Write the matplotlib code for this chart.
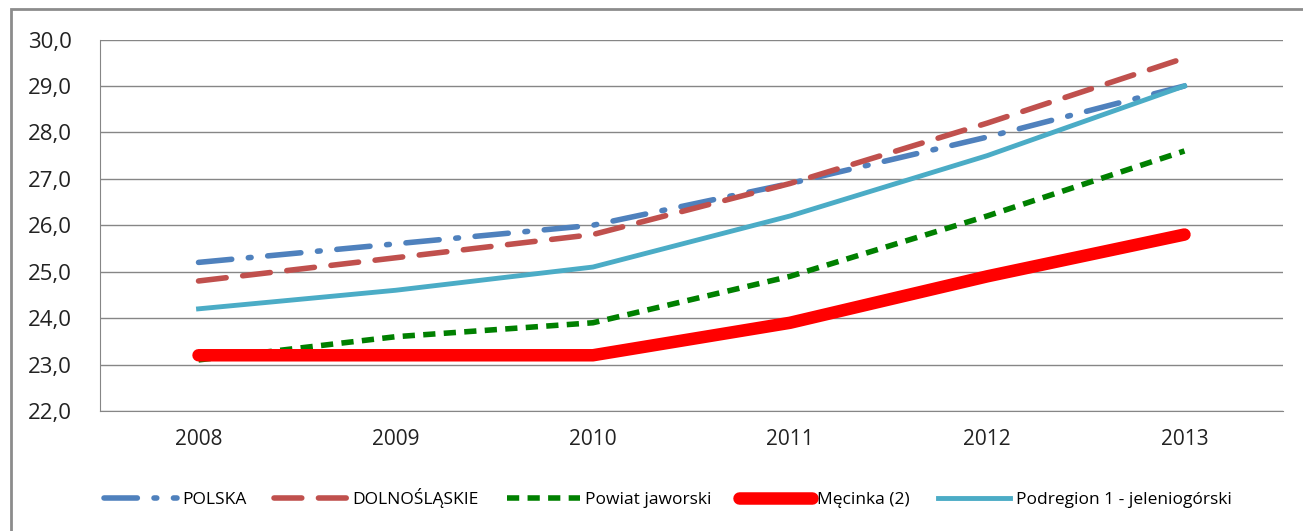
import matplotlib.pyplot as plt
from matplotlib.patches import Rectangle
from matplotlib.ticker import FuncFormatter

years = ['2008', '2009', '2010', '2011', '2012', '2013']
polska = [25.2, 25.6, 26.0, 26.9, 27.9, 29.0]
dolnoslaskie = [24.8, 25.3, 25.8, 26.9, 28.2, 29.6]
powiat_jaworski = [23.1, 23.6, 23.9, 24.9, 26.2, 27.6]
mecinka = [23.2, 23.2, 23.2, 23.9, 24.9, 25.8]
podregion = [24.2, 24.6, 25.1, 26.2, 27.5, 29.0]

plt.rcParams['font.family'] = ['Open Sans', 'DejaVu Sans']

fig = plt.figure(figsize=(13.03, 5.31), dpi=100)
ax = fig.add_axes([0.0767, 0.226, 0.908, 0.6996])

# outer chart frame
fig.patches.append(Rectangle((11 / 1303, -0.05), 1.1, 1 - 9 / 531 + 0.05,
                             transform=fig.transFigure, fill=False,
                             edgecolor='#8c8c8c', linewidth=2))

x = list(range(len(years)))
ax.plot(x, polska, color='#4F81BD', linewidth=4, dashes=(6, 3, 0.5, 3),
        dash_capstyle='round', label='POLSKA')
ax.plot(x, dolnoslaskie, color='#C0504D', linewidth=4, dashes=(5, 3),
        dash_capstyle='round', label='DOLNOŚLĄSKIE')
ax.plot(x, powiat_jaworski, color='#008000', linewidth=4, dashes=(2.2, 1.5),
        label='Powiat jaworski')
ax.plot(x, mecinka, color='#FF0000', linewidth=9, solid_capstyle='round',
        label='Męcinka (2)')
ax.plot(x, podregion, color='#4BACC6', linewidth=3.5, label='Podregion 1 - jeleniogórski')

ax.set_xlim(-0.5, 5.5)
ax.set_ylim(22, 30)
ax.set_yticks([22, 23, 24, 25, 26, 27, 28, 29, 30])
ax.yaxis.set_major_formatter(FuncFormatter(lambda v, p: f'{v:.1f}'.replace('.', ',')))
ax.set_xticks(x)
ax.set_xticklabels(years)
ax.grid(axis='y', color='#868686', linewidth=1)
ax.set_axisbelow(True)
for s in ['top', 'right']:
    ax.spines[s].set_visible(False)
ax.spines['left'].set_color('#868686')
ax.spines['bottom'].set_color('#868686')
ax.tick_params(axis='both', length=0, colors='#222222')
ax.tick_params(axis='y', pad=20, labelsize=16)
ax.tick_params(axis='x', pad=13, labelsize=15)

ax.legend(loc='center', bbox_to_anchor=(0.48, -0.235), ncol=5, frameon=False,
          fontsize=12.5, handlelength=4.2, handletextpad=0.3, columnspacing=1.6)

fig.savefig('out.png', dpi=100)
